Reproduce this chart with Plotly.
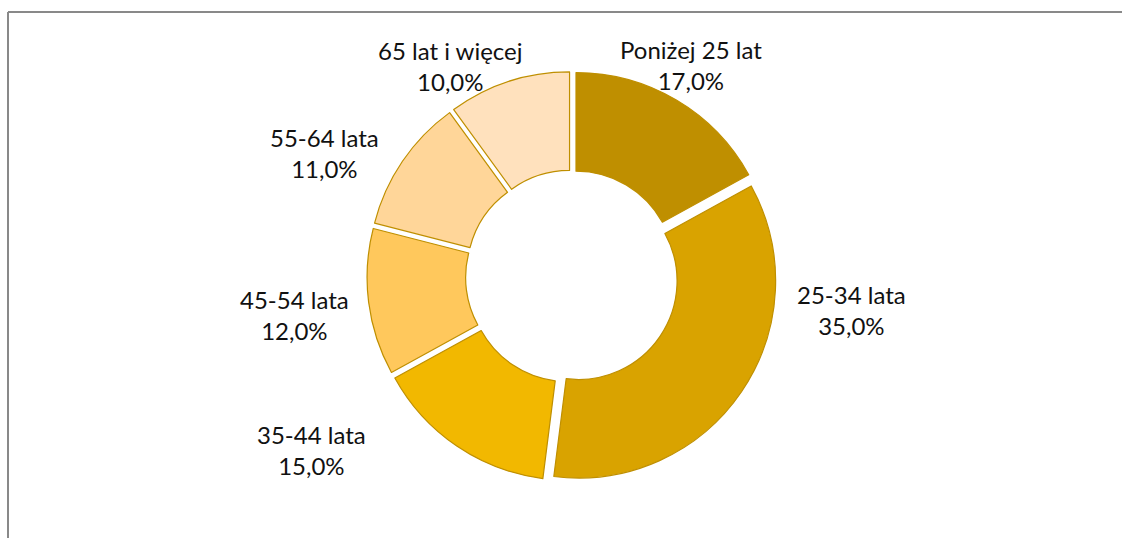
import plotly.graph_objects as go

categories = ["Poniżej 25 lat", "25-34 lata", "35-44 lata", "45-54 lata", "55-64 lata", "65 lat i więcej"]
values = [17.0, 35.0, 15.0, 12.0, 11.0, 10.0]
colors = ["#BF8F00", "#D9A300", "#F2B800", "#FFC85C", "#FFD699", "#FFE1BD"]

# label anchor positions (paper fractions), kept apart from the data
label_x = [0.6159, 0.7585, 0.2772, 0.2625, 0.2888, 0.4011]
label_y = [0.8792, 0.4238, 0.1636, 0.4145, 0.7156, 0.8773]

text_labels = [f"{c}<br>{v:.1f}%".replace(".", ",") for c, v in zip(categories, values)]

fig = go.Figure(go.Pie(
    labels=categories,
    values=values,
    textinfo="none",
    hole=0.5,
    sort=False,
    direction="clockwise",
    rotation=0,
    pull=[0.04] * len(values),
    marker=dict(colors=colors, line=dict(color="#BF8F00", width=1.2)),
    showlegend=False,
    hoverinfo="label+percent",
    domain=dict(x=[0.3271, 0.6925], y=[0.1050, 0.8671]),
))

annotations = [
    dict(x=x, y=y, xref="paper", yref="paper", text=t, showarrow=False,
         xanchor="center", yanchor="middle", align="center",
         font=dict(family="Lato, Calibri, sans-serif", size=24, color="#111111"))
    for x, y, t in zip(label_x, label_y, text_labels)
]

fig.update_layout(
    width=1122, height=538,
    margin=dict(l=0, r=0, t=0, b=0),
    paper_bgcolor="white",
    plot_bgcolor="white",
    annotations=annotations,
    shapes=[
        dict(type="line", xref="paper", yref="paper", x0=0.00713, x1=1.0, y0=0.9777, y1=0.9777,
             line=dict(color="#898989", width=2)),
        dict(type="line", xref="paper", yref="paper", x0=0.00713, x1=0.00713, y0=0.0, y1=0.9777,
             line=dict(color="#898989", width=2)),
    ],
)

fig.write_html("out.html", config={"displayModeBar": False},
               post_script="document.body.style.margin='0';")
